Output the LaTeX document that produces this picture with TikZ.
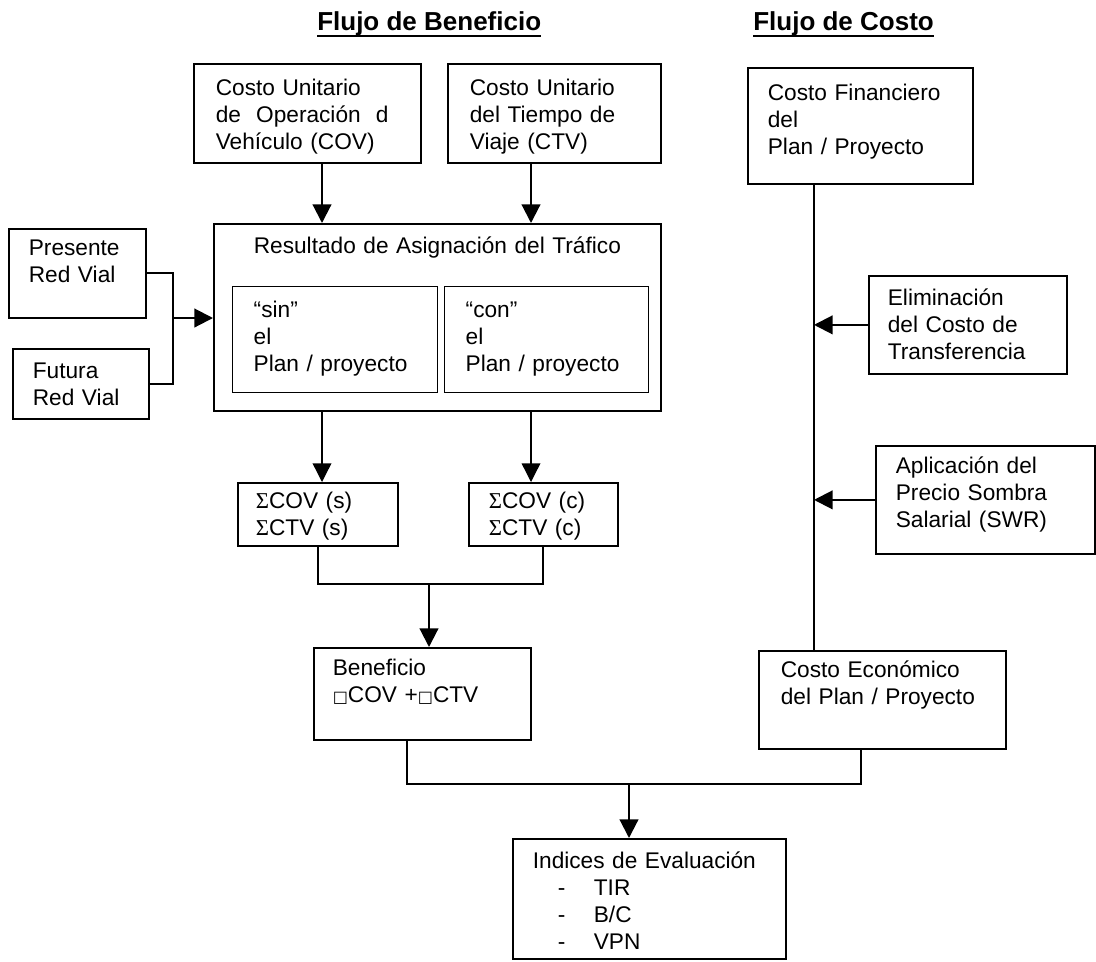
\documentclass[tikz,border=0pt]{standalone}
\usepackage{fontspec}
\setmainfont{Liberation Sans}
\newfontfamily\sigfont{Liberation Serif}
\newfontfamily\symfont{DejaVu Sans}
\usetikzlibrary{arrows.meta}

\begin{document}
\begin{tikzpicture}[x=0.75pt, y=-0.75pt,
  every node/.style={font=\fontsize{17}{20.25}\selectfont},
  caja/.style={draw, line width=1.3pt, rectangle, anchor=north west, align=left, inner ysep=0pt},
  titulo/.style={anchor=base west, inner sep=0pt, font=\fontsize{19.5}{23}\selectfont\bfseries},
  linea/.style={line width=1.6pt},
  flecha/.style={line width=1.6pt, -{Triangle[length=14pt,width=14pt]}},
  flechafina/.style={line width=1pt, -{Triangle[length=14pt,width=14pt]}}]

\useasboundingbox (0,0) rectangle (1096,961);

\node[titulo] (tben) at (317,30) {Flujo de Beneficio};
\node[titulo] (tcos) at (753,30) {Flujo de Costo};
\draw[line width=1.3pt] (tben.south west) -- (tben.south east);
\draw[line width=1.3pt] (tcos.south west) -- (tcos.south east);

% Cajas
\node[caja, inner xsep=16.5pt, text width=137.25pt, text height=24pt, text depth=50.25pt] (cov) at (193,63) {Costo Unitario\\de~~Operación~~d\\Vehículo (COV)};
\node[caja, inner xsep=16.5pt, text width=126.75pt, text height=24pt, text depth=50.25pt] (ctv) at (447,63) {Costo Unitario\\del Tiempo de\\Viaje (CTV)};
\node[caja, inner xsep=15pt, text width=138.75pt, text height=24.75pt, text depth=62.25pt] (fin) at (747,67) {Costo Financiero\\del\\Plan / Proyecto};

\node[caja, align=center, inner xsep=0pt, text width=335.25pt, text height=22.5pt, text depth=117.75pt] (res) at (213,223) {Resultado de Asignación del Tráfico};
\node[caja, line width=1.1pt, inner xsep=15.75pt, text width=122.25pt, text height=23.25pt, text depth=56.25pt] (sin) at (232,286) {“sin”\\el\\Plan / proyecto};
\node[caja, line width=1.1pt, inner xsep=15.75pt, text width=121.5pt, text height=23.25pt, text depth=56.25pt] (con) at (444,286) {“con”\\el\\Plan / proyecto};

\node[caja, inner xsep=15pt, text width=72.75pt, text height=20.25pt, text depth=46.5pt] (pres) at (8,228) {Presente\\Red Vial};
\node[caja, inner xsep=15pt, text width=72pt, text height=22.5pt, text depth=30pt] (fut) at (12,348) {Futura\\Red Vial};

\node[caja, inner xsep=14.25pt, text width=120pt, text height=22.5pt, text depth=51pt] (elim) at (868,275) {Eliminación\\del Costo de\\Transferencia};
\node[caja, inner xsep=15pt, text width=134.25pt, text height=21pt, text depth=60pt] (apl) at (875,445) {Aplicación del\\Precio Sombra\\Salarial (SWR)};

\node[caja, inner xsep=13.5pt, text width=93pt, text height=19.5pt, text depth=27.75pt] (sumS) at (237,482) {{\sigfont Σ}COV (s)\\{\sigfont Σ}CTV (s)};
\node[caja, inner xsep=15pt, text width=81.75pt, text height=19.5pt, text depth=27.75pt] (sumC) at (468,482) {{\sigfont Σ}COV (c)\\{\sigfont Σ}CTV (c)};

\node[caja, inner xsep=14.25pt, text width=134.25pt, text height=21pt, text depth=48pt] (ben) at (313,647) {Beneficio\\{\symfont\fontsize{12}{12}\selectfont □}COV +{\symfont\fontsize{12}{12}\selectfont □}CTV};
\node[caja, inner xsep=16.5pt, text width=152.25pt, text height=20.25pt, text depth=53.25pt] (eco) at (758,650) {Costo Económico\\del Plan / Proyecto};

\node[caja, inner xsep=15pt, text width=174.75pt, text height=22.5pt, text depth=67.5pt] (ind) at (512,838) {Indices de Evaluación\\
  \hspace*{18.75pt}\makebox[27pt][l]{-}TIR\\
  \hspace*{18.75pt}\makebox[27pt][l]{-}B/C\\
  \hspace*{18.75pt}\makebox[27pt][l]{-}VPN};

\coordinate (colS) at (322,0);
\coordinate (colC) at (531,0);
\coordinate (colF) at (814,0);
\coordinate (jred) at (173,318);
\coordinate (jsum) at (429,584);
\coordinate (jind) at (629,784);

% Flechas
\draw[flecha] (cov.south -| colS) -- (res.north -| colS);
\draw[flecha] (ctv.south -| colC) -- (res.north -| colC);
\draw[linea] (pres.east) -| (jred) |- (fut.east);
\draw[flecha] (jred) -- (jred -| res.west);
\draw[flechafina] (res.south -| colS) -- (sumS.north -| colS);
\draw[flechafina] (res.south -| colC) -- (sumC.north -| colC);
\draw[linea] (sumS.south) |- (jsum) -| (sumC.south);
\draw[flecha] (jsum) -- (jsum |- ben.north);
\draw[linea] (fin.south -| colF) -- (eco.north -| colF);
\draw[flecha] (elim.west) -- (elim.west -| colF);
\draw[flecha] (apl.west) -- (apl.west -| colF);
\draw[linea] ([xshift=-11.25pt]ben.south) |- (jind) -| ([xshift=-16pt]eco.south);
\draw[flecha] (jind) -- (jind |- ind.north);

\end{tikzpicture}
\end{document}
